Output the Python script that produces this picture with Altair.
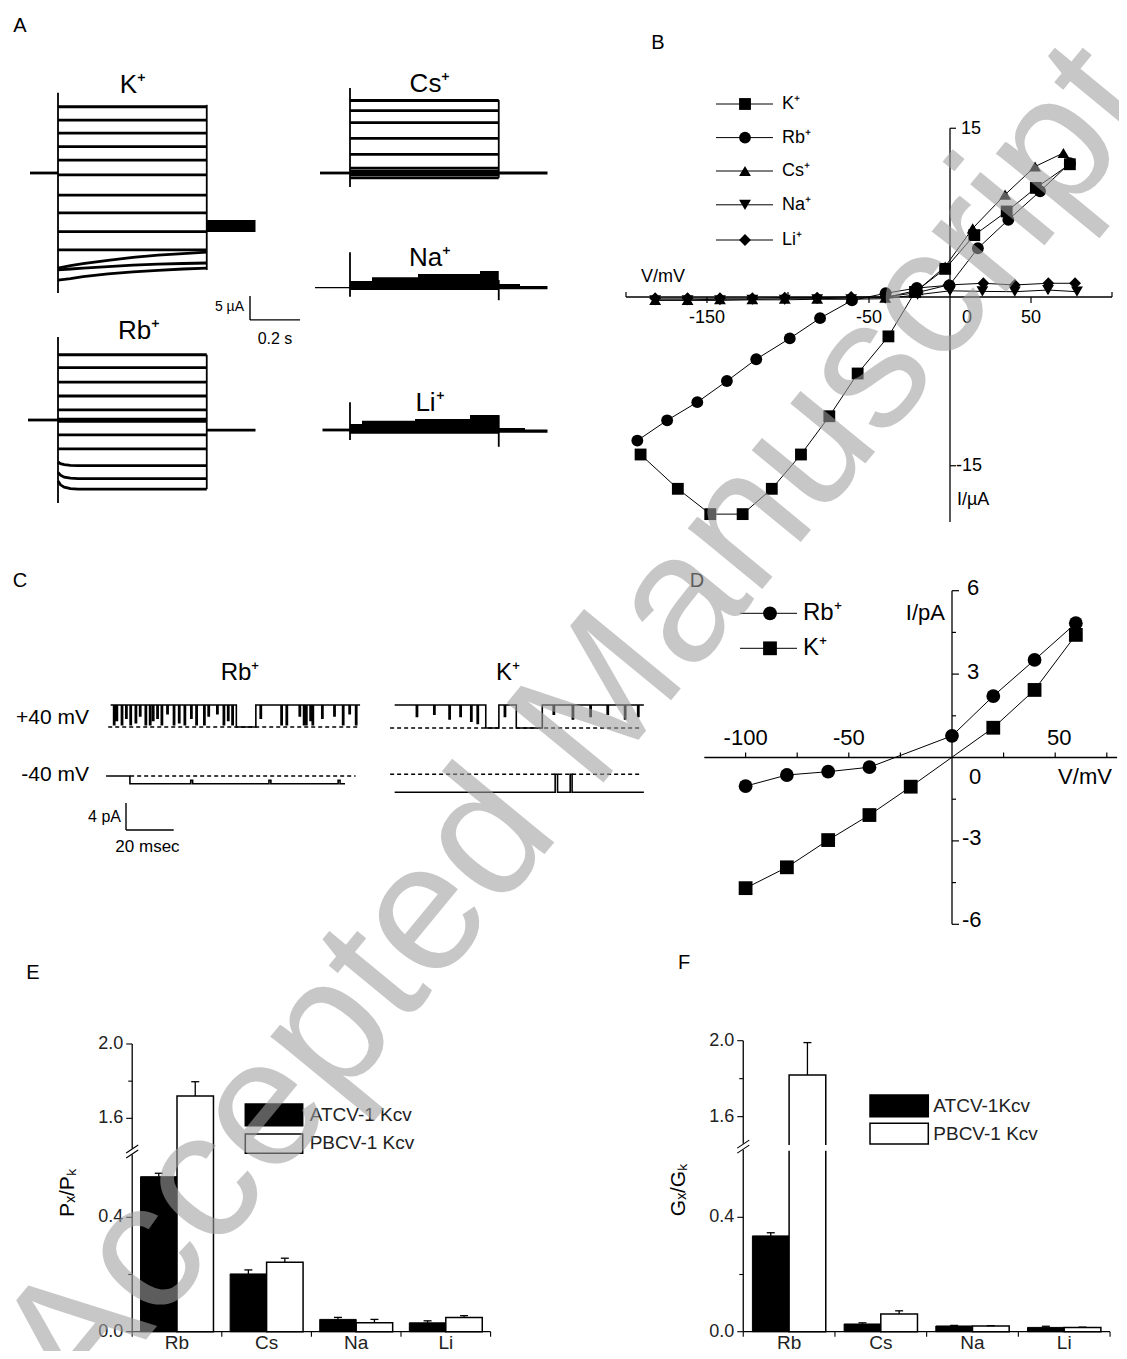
import math
import altair as alt
import pandas as pd

FONT = "Liberation Sans"
INK = "#000000"

# ============================================================ DATA
# ---- A: voltage-clamp current traces; time in s, current in uA (relative to holding current)
A_PULSE_END = 0.595
A_TAIL_END = 0.79
A_PRE_START = {"K+": -0.112, "Rb+": -0.12, "Cs+": -0.12, "Na+": -0.14, "Li+": -0.11}
K_LEVELS = [13.8, 11.0, 8.3, 5.5, 2.7, -0.4, -4.6, -8.3, -12.2, -16.0]
K_SLOW_T = [0, 0.05, 0.1, 0.2, 0.3, 0.4, 0.5, 0.595]
K_SLOW = [[-19.8, -19.3, -18.9, -18.2, -17.6, -17.1, -16.8, -16.5],
          [-20.2, -20.0, -19.8, -19.5, -19.2, -19.0, -18.85, -18.75],
          [-22.3, -22.0, -21.6, -21.0, -20.6, -20.3, -20.0, -19.8]]
K_TAIL_BAND = [-9.8, -12.3]
RB_LEVELS = [13.6, 10.9, 7.9, 5.0, 2.1, 0.2, -0.3, -3.1, -6.0]
RB_FAST_T = [0, 0.01, 0.025, 0.05, 0.08, 0.595]
RB_FAST = [[-8.75, -9.1, -9.3, -9.45, -9.5, -9.5],
           [-10.9, -11.5, -11.9, -12.1, -12.2, -12.2],
           [-12.7, -13.5, -14.0, -14.3, -14.4, -14.4]]
RB_TAIL = -2.1
CS_LEVELS = [15.1, 13.0, 10.5, 7.2, 3.9, 1.0, 0.4, 0.0, -0.4, -1.0]
CS_TAIL = 0.0
NA_T = [0, 0.088, 0.272, 0.52, 0.595]
NA_TOP = [1.4, 2.2, 2.85, 3.5, 3.5]
NA_BOTTOM = -0.5
NA_TAIL_T = [0.595, 0.68, 0.79]
NA_TAIL_TOP = [0.8, 0.35, 0.35]
NA_TAIL_BOTTOM = -0.3
LI_T = [0, 0.048, 0.26, 0.48, 0.595]
LI_TOP = [1.25, 1.9, 2.3, 3.1, 3.1]
LI_BOTTOM = -0.8
LI_TAIL_T = [0.595, 0.7, 0.79]
LI_TAIL_TOP = [0.4, 0.1, 0.1]
LI_TAIL_BOTTOM = -0.6
A_ON = {"K+": (16.7, -25.0), "Rb+": (17.3, -17.3), "Cs+": (17.7, -2.9), "Na+": (7.4, -1.9), "Li+": (5.8, -2.1)}
A_OFF = {"K+": (14.2, -20.2), "Rb+": (13.6, -14.4), "Cs+": (15.2, -1.0), "Na+": (1.6, -2.6), "Li+": (3.1, -3.5)}

# ---- B: I/V relations (mV, uA)
B_K_V = [-191, -168, -148, -128, -110, -92, -74.5, -57, -38, -21.6, -3, 15, 35, 53, 74]
B_K_I = [-14.0, -17.05, -19.3, -19.3, -17.05, -14.0, -10.6, -6.8, -3.5, 0.45, 2.5, 5.5, 7.6, 9.7, 11.8]
B_RB_V = [-193, -174.6, -156, -137.7, -119.6, -98.9, -80.2, -60.5, -39.7, -20.5, -0.4, 17.2, 36, 55.6, 74]
B_RB_I = [-12.76, -10.96, -9.35, -7.47, -5.53, -3.68, -1.88, -0.3, 0.33, 0.8, 1.04, 4.33, 6.86, 9.4, 11.9]
B_NEG_V = [-182, -162, -142, -122, -102, -82, -61, -40]
B_CS_V = B_NEG_V + [-20, -3, 14, 34, 52.5, 70]
B_CS_I = [-0.25, -0.25, -0.2, -0.2, -0.15, -0.15, -0.1, -0.05, 0.6, 2.7, 6.1, 9.1, 11.6, 12.8]
B_NA_V = B_NEG_V + [-20, 0, 20, 40, 60.5, 78.4]
B_NA_I = [-0.3, -0.3, -0.3, -0.25, -0.25, -0.2, -0.2, -0.15, 0.2, 0.55, 0.5, 0.47, 0.62, 0.47]
B_LI_V = B_NEG_V + [-20, -1, 20.6, 40, 60.7, 77.2]
B_LI_I = [-0.1, -0.1, -0.1, -0.1, -0.05, -0.05, 0.0, 0.0, 0.4, 1.07, 1.22, 1.07, 1.22, 1.22]
B_IONS = ["K\u207a", "Rb\u207a", "Cs\u207a", "Na\u207a", "Li\u207a"]
B_SHAPES = ["square", "circle", "triangle-up", "triangle-down", "diamond"]

# ---- C: single-channel records; time in ms, current in pA (closed level = 0)
RB40_OPEN = 3.26
RB40_SPIKE_T = [1.26, 2.37, 4.54, 6.36, 8.18, 10.36, 12.17, 14.53, 16.35, 17.62, 19.44, 21.26,
                23.62, 26.35, 28.53, 30.89, 33.62, 35.80, 39.07, 40.89, 44.53, 47.26, 49.08, 50.90,
                62.72, 71.45, 73.63, 79.08, 80.90, 81.81, 83.63, 84.54, 88.54, 93.63, 97.27, 99.99, 102.72]
RB40_SPIKE_D = [0.9, 0.7, 0.9, 0.6, 0.9, 0.8, 0.5, 0.9, 0.9, 0.7, 0.6, 0.9, 0.4, 0.9, 0.8, 0.9,
                0.6, 0.9, 0.9, 0.5, 0.4, 0.9, 0.7, 0.9, 0.6, 0.9, 0.9, 0.5, 0.9, 0.9, 0.7, 0.9,
                0.6, 0.5, 0.9, 0.4, 0.9]
RB40_CLOSED = [(52.72, 60.9)]
RBN40_OPEN = -1.15
RBN40_FIRST_OPENING = 8.1
RBN40_BLIP_T = [33.6, 66.4, 95.4]
RBN40_BLIP_D = [0.45, 0.45, 0.45]
K40_OPEN = 3.4
K40_SPIKE_T = [9.1, 16.4, 22.8, 27.4, 31.9, 34.6, 46.0, 66.5, 74.5, 81.9, 89.1, 96.4, 101.9]
K40_SPIKE_D = [0.5, 0.4, 0.6, 0.5, 0.7, 0.8, 0.5, 0.4, 0.6, 0.5, 0.4, 0.6, 0.5]
K40_CLOSED = [(38.2, 43.7), (51.0, 61.9)]
KN40_OPEN = -2.67
KN40_CLOSED = [(67.3, 68.3), (73.6, 74.4)]

# ---- D: single-channel I/V (mV, pA)
D_RB_V = [-100, -80, -60, -40, 0, 20, 40, 60]
D_RB_I = [-1.03, -0.63, -0.51, -0.35, 0.78, 2.21, 3.51, 4.83]
D_K_V = [-100, -80, -60, -40, -20, 20, 40, 60]
D_K_I = [-4.7, -3.95, -2.97, -2.07, -1.05, 1.07, 2.43, 4.41]

# ---- E / F: permeability and conductance ratios
CATS = ["Rb", "Cs", "Na", "Li"]
SERIES = ["ATCV-1 Kcv", "PBCV-1 Kcv"]
E_ATCV = [0.542, 0.202, 0.043, 0.031]
E_ATCV_ERR = [0.012, 0.014, 0.007, 0.007]
E_PBCV = [1.72, 0.243, 0.031, 0.050]
E_PBCV_ERR = [0.077, 0.014, 0.012, 0.006]
F_ATCV = [0.335, 0.027, 0.020, 0.015]
F_ATCV_ERR = [0.011, 0.004, 0.002, 0.004]
F_PBCV = [1.819, 0.062, 0.020, 0.015]
F_PBCV_ERR = [0.171, 0.011, 0.001, 0.001]
Y_TICKS = [0.0, 0.4, 1.6, 2.0]
Y_MINOR = [0.2, 1.8]

# ============================================================ LAYOUT (page pixels)
ORIGIN = {"A": (8, 8), "B": (683, 8), "C": (8, 548), "D": (683, 548), "E": (8, 948), "F": (683, 948)}
SIZE = {"A": (675, 540), "B": (436, 540), "C": (675, 400), "D": (436, 400), "E": (675, 403), "F": (436, 403)}

# watermark, set letter by letter along a diagonal
WM_TEXT = "Accepted Manuscript"
WM_ADV = [0.667, 0.5, 0.5, 0.556, 0.556, 0.278, 0.556, 0.556, 0.278, 0.833,
          0.556, 0.556, 0.556, 0.5, 0.5, 0.333, 0.222, 0.556, 0.278]
WM_CENTER = (577, 728)
WM_SIZE = 182
WM_DEG = 50.6
WM_CLIPPED_HOST = {0: "E", 1: "E", 17: "B", 18: "B"}
WM_DEFAULT_HOST = "F"

wm_by_host = {}
_ux, _uy = math.cos(math.radians(WM_DEG)), -math.sin(math.radians(WM_DEG))
_total = sum(WM_ADV)
_cum = 0.0
for _k, (_ch, _adv) in enumerate(zip(WM_TEXT, WM_ADV)):
    _s = (_cum + _adv / 2 - _total / 2) * WM_SIZE
    _cum += _adv
    if _ch == " ":
        continue
    _host = WM_CLIPPED_HOST.get(_k, WM_DEFAULT_HOST)
    wm_by_host.setdefault(_host, []).append(
        (_ch, WM_CENTER[0] + _s * _ux, WM_CENTER[1] + _s * _uy, _k in WM_CLIPPED_HOST))


class Panel:
    def __init__(self, key, xv, xp, kx, yv, yp, ky):
        self.key = key
        self.ox, self.oy = ORIGIN[key]
        self.w, self.h = SIZE[key]
        self.kx, self.ky = kx, ky
        x0 = xv - (xp - self.ox) / kx
        self.xd = [x0, x0 + self.w / kx]
        y1 = yv + (yp - self.oy) / ky
        self.yd = [y1 - self.h / ky, y1]
        self.layers = []

    def X(self):
        return alt.X("x:Q", scale=alt.Scale(domain=self.xd, nice=False, zero=False), axis=None)

    def Y(self):
        return alt.Y("y:Q", scale=alt.Scale(domain=self.yd, nice=False, zero=False), axis=None)

    def px(self, n):
        return n / self.kx

    def py(self, n):
        return n / self.ky

    def at(self, qx, qy):
        return (self.xd[0] + (qx - self.ox) / self.kx, self.yd[1] - (qy - self.oy) / self.ky)

    def rules(self, rows, width=1.0, dash=None, color=INK):
        df = pd.DataFrame(rows, columns=["x", "y", "x2", "y2"])
        kw = dict(strokeWidth=width, color=color)
        if dash is not None:
            kw["strokeDash"] = dash
        self.layers.append(alt.Chart(df).mark_rule(**kw).encode(
            x=self.X(), y=self.Y(), x2=alt.X2("x2"), y2=alt.Y2("y2")))

    def lines(self, rows, width=1.5, interp="linear", color=INK):
        df = pd.DataFrame(rows, columns=["g", "o", "x", "y"])
        self.layers.append(alt.Chart(df).mark_line(strokeWidth=width, color=color, interpolate=interp).encode(
            x=self.X(), y=self.Y(), detail="g:N", order="o:Q"))

    def areas(self, rows, interp="step-after"):
        df = pd.DataFrame(rows, columns=["g", "x", "y", "y2"])
        self.layers.append(alt.Chart(df).mark_area(color=INK, interpolate=interp).encode(
            x=self.X(), y=self.Y(), y2=alt.Y2("y2"), detail="g:N"))

    def rects(self, rows, fill=INK, stroke=None, sw=1.0):
        df = pd.DataFrame(rows, columns=["x", "y", "x2", "y2"])
        kw = dict(fill=fill)
        if stroke is not None:
            kw["stroke"] = stroke
            kw["strokeWidth"] = sw
        self.layers.append(alt.Chart(df).mark_rect(**kw).encode(
            x=self.X(), y=self.Y(), x2=alt.X2("x2"), y2=alt.Y2("y2")))

    def points(self, rows, domain, shapes, size=140):
        df = pd.DataFrame(rows, columns=["g", "x", "y"])
        self.layers.append(alt.Chart(df).mark_point(filled=True, opacity=1, color=INK, size=size).encode(
            x=self.X(), y=self.Y(),
            shape=alt.Shape("g:N", scale=alt.Scale(domain=domain, range=shapes), legend=None)))

    def texts(self, rows, size=16, align="center", baseline="middle", angle=0, color=INK):
        df = pd.DataFrame(rows, columns=["x", "y", "label"])
        self.layers.append(alt.Chart(df).mark_text(
            fontSize=size, align=align, baseline=baseline, angle=angle, color=color, font=FONT).encode(
            x=self.X(), y=self.Y(), text="label:N"))

    def ptexts(self, rows, **kw):
        self.texts([(*self.at(a, b), s) for a, b, s in rows], **kw)

    def chart(self):
        for ch, gx, gy, clip in wm_by_host.get(self.key, []):
            kw = dict(fontSize=WM_SIZE, font=FONT, angle=360 - WM_DEG, align="center", baseline="middle",
                      color="#a0a0a0", opacity=0.58)
            if clip:
                kw["clip"] = True
            self.layers.append(alt.Chart(pd.DataFrame({"label": [ch]})).mark_text(**kw).encode(
                x=alt.value(gx - self.ox), y=alt.value(gy - self.oy), text="label:N"))
        return alt.layer(*self.layers).properties(width=self.w, height=self.h)


# ============================================================ PANEL A
pA = Panel("A", 0, 58, 250, 0, 173, 4.8)
A_OFFSET = {"K+": (0.0, 0.0), "Rb+": (0.0, -51.46), "Cs+": (1.168, 0.0), "Na+": (1.168, -23.9), "Li+": (1.168, -53.54)}
thick, thin, band, verts = [], [], [], []


def add_line(buf, g, pts, ion):
    dt, di = A_OFFSET[ion]
    for o, (t, i) in enumerate(pts):
        buf.append((g, o, t + dt, i + di))


def add_band(g, ts, tops, bottom, ion):
    dt, di = A_OFFSET[ion]
    for t, top in zip(ts, tops):
        band.append((g, t + dt, top + di, bottom + di))


for j, lv in enumerate(K_LEVELS):
    add_line(thick, f"K{j}", [(0, lv), (A_PULSE_END, lv)], "K+")
for j, vals in enumerate(K_SLOW):
    add_line(thick, f"Ks{j}", list(zip(K_SLOW_T, vals)), "K+")
for j, lv in enumerate(RB_LEVELS):
    add_line(thick, f"R{j}", [(0, lv), (A_PULSE_END, lv)], "Rb+")
for j, vals in enumerate(RB_FAST):
    add_line(thick, f"Rf{j}", list(zip(RB_FAST_T, vals)), "Rb+")
add_line(thick, "Rtail", [(A_PULSE_END, RB_TAIL), (A_TAIL_END, RB_TAIL)], "Rb+")
for j, lv in enumerate(CS_LEVELS):
    add_line(thick, f"C{j}", [(0, lv), (A_PULSE_END, lv)], "Cs+")
add_line(thick, "Ctail", [(A_PULSE_END, CS_TAIL), (A_TAIL_END, CS_TAIL)], "Cs+")
for ion in ["K+", "Rb+", "Cs+", "Li+"]:
    add_line(thick, ion + "pre", [(A_PRE_START[ion], 0), (0, 0)], ion)
add_line(thin, "Napre", [(A_PRE_START["Na+"], 0), (0, 0)], "Na+")
add_band("Ktail", [A_PULSE_END, A_TAIL_END], [K_TAIL_BAND[0]] * 2, K_TAIL_BAND[1], "K+")
add_band("Na", NA_T, NA_TOP, NA_BOTTOM, "Na+")
add_band("Natail", NA_TAIL_T, NA_TAIL_TOP, NA_TAIL_BOTTOM, "Na+")
add_band("Li", LI_T, LI_TOP, LI_BOTTOM, "Li+")
add_band("Litail", LI_TAIL_T, LI_TAIL_TOP, LI_TAIL_BOTTOM, "Li+")
for ion in A_OFFSET:
    dt, di = A_OFFSET[ion]
    verts.append((dt, A_ON[ion][0] + di, dt, A_ON[ion][1] + di))
    verts.append((A_PULSE_END + dt, A_OFF[ion][0] + di, A_PULSE_END + dt, A_OFF[ion][1] + di))

pA.areas(band)
pA.lines(thick, width=2.8)
pA.lines(thin, width=1.2)
pA.rules(verts, width=1.8)
SB_T, SB_I = 0.768, -30.6
pA.rules([(SB_T, SB_I + 5, SB_T, SB_I), (SB_T, SB_I, SB_T + 0.2, SB_I)], width=1.4)
pA.texts([(SB_T - pA.px(6), SB_I + 2.7, "5 \u00b5A")], size=14, align="right")
pA.texts([(SB_T + 0.1, SB_I - pA.py(19), "0.2 s")], size=16)
ion_labels = {"K+": (0.30, 18.4, "K\u207a"), "Rb+": (0.324, 18.5, "Rb\u207a"), "Cs+": (0.32, 18.5, "Cs\u207a"),
              "Na+": (0.32, 6.2, "Na\u207a"), "Li+": (0.32, 5.6, "Li\u207a")}
pA.texts([(t + A_OFFSET[k][0], i + A_OFFSET[k][1], s) for k, (t, i, s) in ion_labels.items()], size=26)
pA.ptexts([(20, 26, "A")], size=20)

# ============================================================ PANEL B
pB = Panel("B", 0, 950, 1.62, 0, 297, 11.25)
b_series = [(B_IONS[0], B_K_V, B_K_I), (B_IONS[1], B_RB_V, B_RB_I), (B_IONS[2], B_CS_V, B_CS_I),
            (B_IONS[3], B_NA_V, B_NA_I), (B_IONS[4], B_LI_V, B_LI_I)]
b_lines, b_pts = [], []
for name, vs, cs in b_series:
    for o, (v, c) in enumerate(zip(vs, cs)):
        b_lines.append((name, o, v, c))
        b_pts.append((name, v, c))
pB.rules([(-200, 0, 100, 0), (0, -20, 0, 15)], width=1.3)
pB.rules([(v, 0, v, -pB.py(6)) for v in [-150, -50, 50]] +
         [(v, 0, v, pB.py(5)) for v in [-200, -100, 100]] +
         [(0, v, pB.px(6), v) for v in [15, -15]], width=1.2)
pB.lines(b_lines, width=1.0)
pB.points(b_pts, B_IONS, B_SHAPES, size=140)
yl = pB.at(0, 318)[1]
pB.texts([(-150, yl, "-150"), (-50, yl, "-50"), (pB.px(17), yl, "0"), (50, yl, "50")], size=18)
pB.ptexts([(663, 277, "V/mV")], size=18)
pB.ptexts([(961, 129, "15"), (956, 466, "-15"), (957, 500, "I/\u00b5A")], size=18, align="left")
leg_rows = [104, 137.6, 171, 204.8, 240]
lx1, lx2, lxm, lxt = 716, 773, 745, 782
leg_rules, leg_pts, leg_txt = [], [], []
for name, ry in zip(B_IONS, leg_rows):
    a = pB.at(lx1, ry)
    b = pB.at(lx2, ry)
    leg_rules.append((a[0], a[1], b[0], b[1]))
    m = pB.at(lxm, ry)
    leg_pts.append((name, m[0], m[1]))
    leg_txt.append((lxt, ry, name))
pB.rules(leg_rules, width=1.0)
pB.points(leg_pts, B_IONS, B_SHAPES, size=140)
pB.ptexts(leg_txt, size=18, align="left")
pB.ptexts([(658, 43, "B")], size=20)

# ============================================================ PANEL C
pC = Panel("C", 0, 110.6, 2.385, 0, 727, 6.75)
C_OFFSET = {"Rb+40": (0.0, 0.0), "Rb-40": (0.0, -7.26), "K+40": (119.1, -0.15), "K-40": (119.1, -7.0)}


def step_trace(t0, t1, open_lv, spikes=(), depths=(), closed=(), w=0.5, closed_until=None):
    ev = [(t, t + w, open_lv * (1 - d)) for t, d in zip(spikes, depths)]
    ev += [(a, b, 0.0) for a, b in closed]
    ev.sort()
    pts = [(t0, 0.0), (closed_until, open_lv)] if closed_until is not None else [(t0, open_lv)]
    for a, b, lv in ev:
        pts += [(a, lv), (b, open_lv)]
    pts.append((t1, open_lv))
    return pts


c_traces = {
    "Rb+40": step_trace(0, 104.6, RB40_OPEN, RB40_SPIKE_T, RB40_SPIKE_D, RB40_CLOSED),
    "Rb-40": step_trace(-1.9, 98.3, RBN40_OPEN, RBN40_BLIP_T, RBN40_BLIP_D, (), w=0.8,
                        closed_until=RBN40_FIRST_OPENING),
    "K+40": step_trace(0, 104.5, K40_OPEN, K40_SPIKE_T, K40_SPIKE_D, K40_CLOSED),
    "K-40": step_trace(0, 104.5, KN40_OPEN, (), (), KN40_CLOSED),
}
c_rows = []
for g, pts in c_traces.items():
    dt, di = C_OFFSET[g]
    for o, (t, i) in enumerate(pts):
        c_rows.append((g, o, t + dt, i + di))
c_dash_span = {"Rb+40": (-1.0, 104.6), "Rb-40": (8.2, 102.7), "K+40": (-1.9, 103.0), "K-40": (-1.9, 103.0)}
dash_rows = []
for g, (a, b) in c_dash_span.items():
    dt, di = C_OFFSET[g]
    dash_rows.append((a + dt, di, b + dt, di))
pC.rules(dash_rows, width=1.3, dash=[4, 3])
pC.lines(c_rows, width=1.6, interp="step-after")
SC_T, SC_I = 6.46, -15.26
pC.rules([(SC_T, SC_I + 4, SC_T, SC_I), (SC_T, SC_I, SC_T + 20, SC_I)], width=1.4)
pC.texts([(SC_T - pC.px(5), SC_I + 2.0, "4 pA")], size=16, align="right")
pC.texts([(SC_T + 9.0, SC_I - pC.py(17), "20 msec")], size=17)
pC.ptexts([(89, 718, "+40 mV"), (89, 775, "-40 mV")], size=21, align="right")
pC.ptexts([(240, 673, "Rb\u207a"), (508, 673, "K\u207a")], size=24)
pC.ptexts([(20, 581, "C")], size=20)

# ============================================================ PANEL D
pD = Panel("D", 0, 952, 2.064, 0, 757.5, 27.8)
pD.rules([(-120, 0, 80, 0), (0, -6, 0, 6)], width=1.3)
pD.rules([(v, 0, v, pD.py(5)) for v in [-100, -75, -50, -25, 25, 50, 75]] +
         [(0, v, pD.px(7), v) for v in [6, 3, -3, -6]] +
         [(0, v, pD.px(4), v) for v in [4.5, 1.5, -1.5, -4.5]], width=1.2)
d_lines, d_pts = [], []
for name, vs, cs in [("Rb\u207a", D_RB_V, D_RB_I), ("K\u207a", D_K_V, D_K_I)]:
    for o, (v, c) in enumerate(zip(vs, cs)):
        d_lines.append((name, o, v, c))
        d_pts.append((name, v, c))
pD.lines(d_lines, width=1.0)
D_NAMES = ["Rb\u207a", "K\u207a"]
D_SHAPES = ["circle", "square"]
pD.points(d_pts, D_NAMES, D_SHAPES, size=190)
ylD = pD.at(0, 738)[1]
pD.texts([(-100, ylD, "-100"), (-50, ylD, "-50"), (52, ylD, "50")], size=22)
pD.ptexts([(975, 777, "0"), (1085, 777, "V/mV")], size=22)
pD.ptexts([(967, 588, "6"), (967, 672, "3"), (962, 838, "-3"), (962, 920, "-6")], size=22, align="left")
pD.ptexts([(945, 613, "I/pA")], size=22, align="right")
d_leg_rules, d_leg_pts, d_leg_txt = [], [], []
for name, ry in zip(D_NAMES, [613.3, 648.3]):
    a = pD.at(740, ry)
    b = pD.at(797, ry)
    d_leg_rules.append((a[0], a[1], b[0], b[1]))
    m = pD.at(770, ry)
    d_leg_pts.append((name, m[0], m[1]))
    d_leg_txt.append((803, ry, name))
pD.rules(d_leg_rules, width=1.0)
pD.points(d_leg_pts, D_NAMES, D_SHAPES, size=190)
pD.ptexts(d_leg_txt, size=24, align="left")
pD.ptexts([(697, 581, "D")], size=20)


# ============================================================ PANELS E, F
def brk(v, b):
    low, high, ratio = b
    return v if v <= low else low + (v - high) * ratio


def bar_panel(p, b, half, atcv, atcv_e, pbcv, pbcv_e, gap, leg_box, leg_txt, ytitle, ytitle_at, letter_at, letter):
    pos = list(range(1, len(CATS) + 1))
    p.rects([(i - half, 0, i, brk(v, b)) for i, v in zip(pos, atcv)], fill=INK, stroke=INK, sw=1.0)
    p.rects([(i, 0, i + half, brk(v, b)) for i, v in zip(pos, pbcv)], fill="white", stroke=INK, sw=1.5)
    low = b[0]
    if gap:
        p.rects([(1 - p.px(2), low - p.py(4), 1 + half + p.px(2), low + p.py(1.7))], fill="white")
    err = []
    for i, v, e in zip(pos, atcv, atcv_e):
        xc = i - half / 2
        err += [(xc, brk(v, b), xc, brk(v + e, b)), (xc - p.px(4), brk(v + e, b), xc + p.px(4), brk(v + e, b))]
    for i, v, e in zip(pos, pbcv, pbcv_e):
        xc = i + half / 2
        err += [(xc, brk(v, b), xc, brk(v + e, b)), (xc - p.px(4), brk(v + e, b), xc + p.px(4), brk(v + e, b))]
    p.rules(err, width=1.3)
    top = brk(2.0, b)
    p.rules([(0.5, 0, 0.5, low - p.py(3)), (0.5, low + p.py(3), 0.5, top), (0.5, 0, 4.5, 0)], width=1.3)
    ticks = [(0.5 - p.px(6), brk(v, b), 0.5, brk(v, b)) for v in Y_TICKS]
    ticks += [(0.5 - p.px(4), brk(v, b), 0.5, brk(v, b)) for v in Y_MINOR]
    ticks += [(x, 0, x, -p.py(5)) for x in [0.5, 1.5, 2.5, 3.5, 4.5]]
    for c in (-2.5, 2.5):
        yc = low + p.py(c)
        ticks.append((0.5 - p.px(6), yc - p.py(4), 0.5 + p.px(6), yc + p.py(4)))
    p.rules(ticks, width=1.1)
    p.texts([(0.5 - p.px(9), brk(v, b), f"{v:.1f}") for v in Y_TICKS], size=18, align="right", color="#222222")
    cy = p.at(0, 1343)[1]
    p.texts([(i, cy, c) for i, c in zip(pos, CATS)], size=19, color="#222222")
    (x1, x2), boxes = leg_box
    for (y1, y2), fill in zip(boxes, [INK, "white"]):
        a = p.at(x1, y1)
        c = p.at(x2, y2)
        p.rects([(a[0], a[1], c[0], c[1])], fill=fill, stroke=INK, sw=1.5)
    p.ptexts(leg_txt, size=19, align="left", color="#222222")
    p.ptexts([(ytitle_at[0], ytitle_at[1], ytitle)], size=21, angle=270)
    p.ptexts([(letter_at[0], letter_at[1], letter)], size=20)


pE = Panel("E", 1, 177, 89.6, 0, 1331.7, 286)
E_BREAK = (0.63, 1.4215, 0.65)
bar_panel(pE, E_BREAK, 0.407, E_ATCV, E_ATCV_ERR, E_PBCV, E_PBCV_ERR, False,
          ((245.3, 302.7), [(1104, 1125.7), (1134, 1153.3)]),
          [(309.7, 1115, SERIES[0]), (309.7, 1143, SERIES[1])],
          "P\u2093/P\u2096", (68, 1193), (33, 973), "E")

pF = Panel("F", 1, 789.1, 91.7, 0, 1331.7, 286)
F_BREAK = (0.647, 1.442, 0.664)
bar_panel(pF, F_BREAK, 0.400, F_ATCV, F_ATCV_ERR, F_PBCV, F_PBCV_ERR, True,
          ((870, 928.3), [(1095, 1116.7), (1123.3, 1144)]),
          [(933.3, 1105.7, "ATCV-1Kcv"), (933.3, 1134, SERIES[1])],
          "G\u2093/G\u2096", (679, 1190), (684, 963), "F")

chart = alt.concat(pA.chart(), pB.chart(), pC.chart(), pD.chart(), pE.chart(), pF.chart(),
                   columns=2, spacing=0, bounds="flush").properties(
    padding=0, background="white").configure_view(stroke="transparent", strokeWidth=0)

chart.save("out.html", embed_options={"renderer": "svg", "actions": False})
